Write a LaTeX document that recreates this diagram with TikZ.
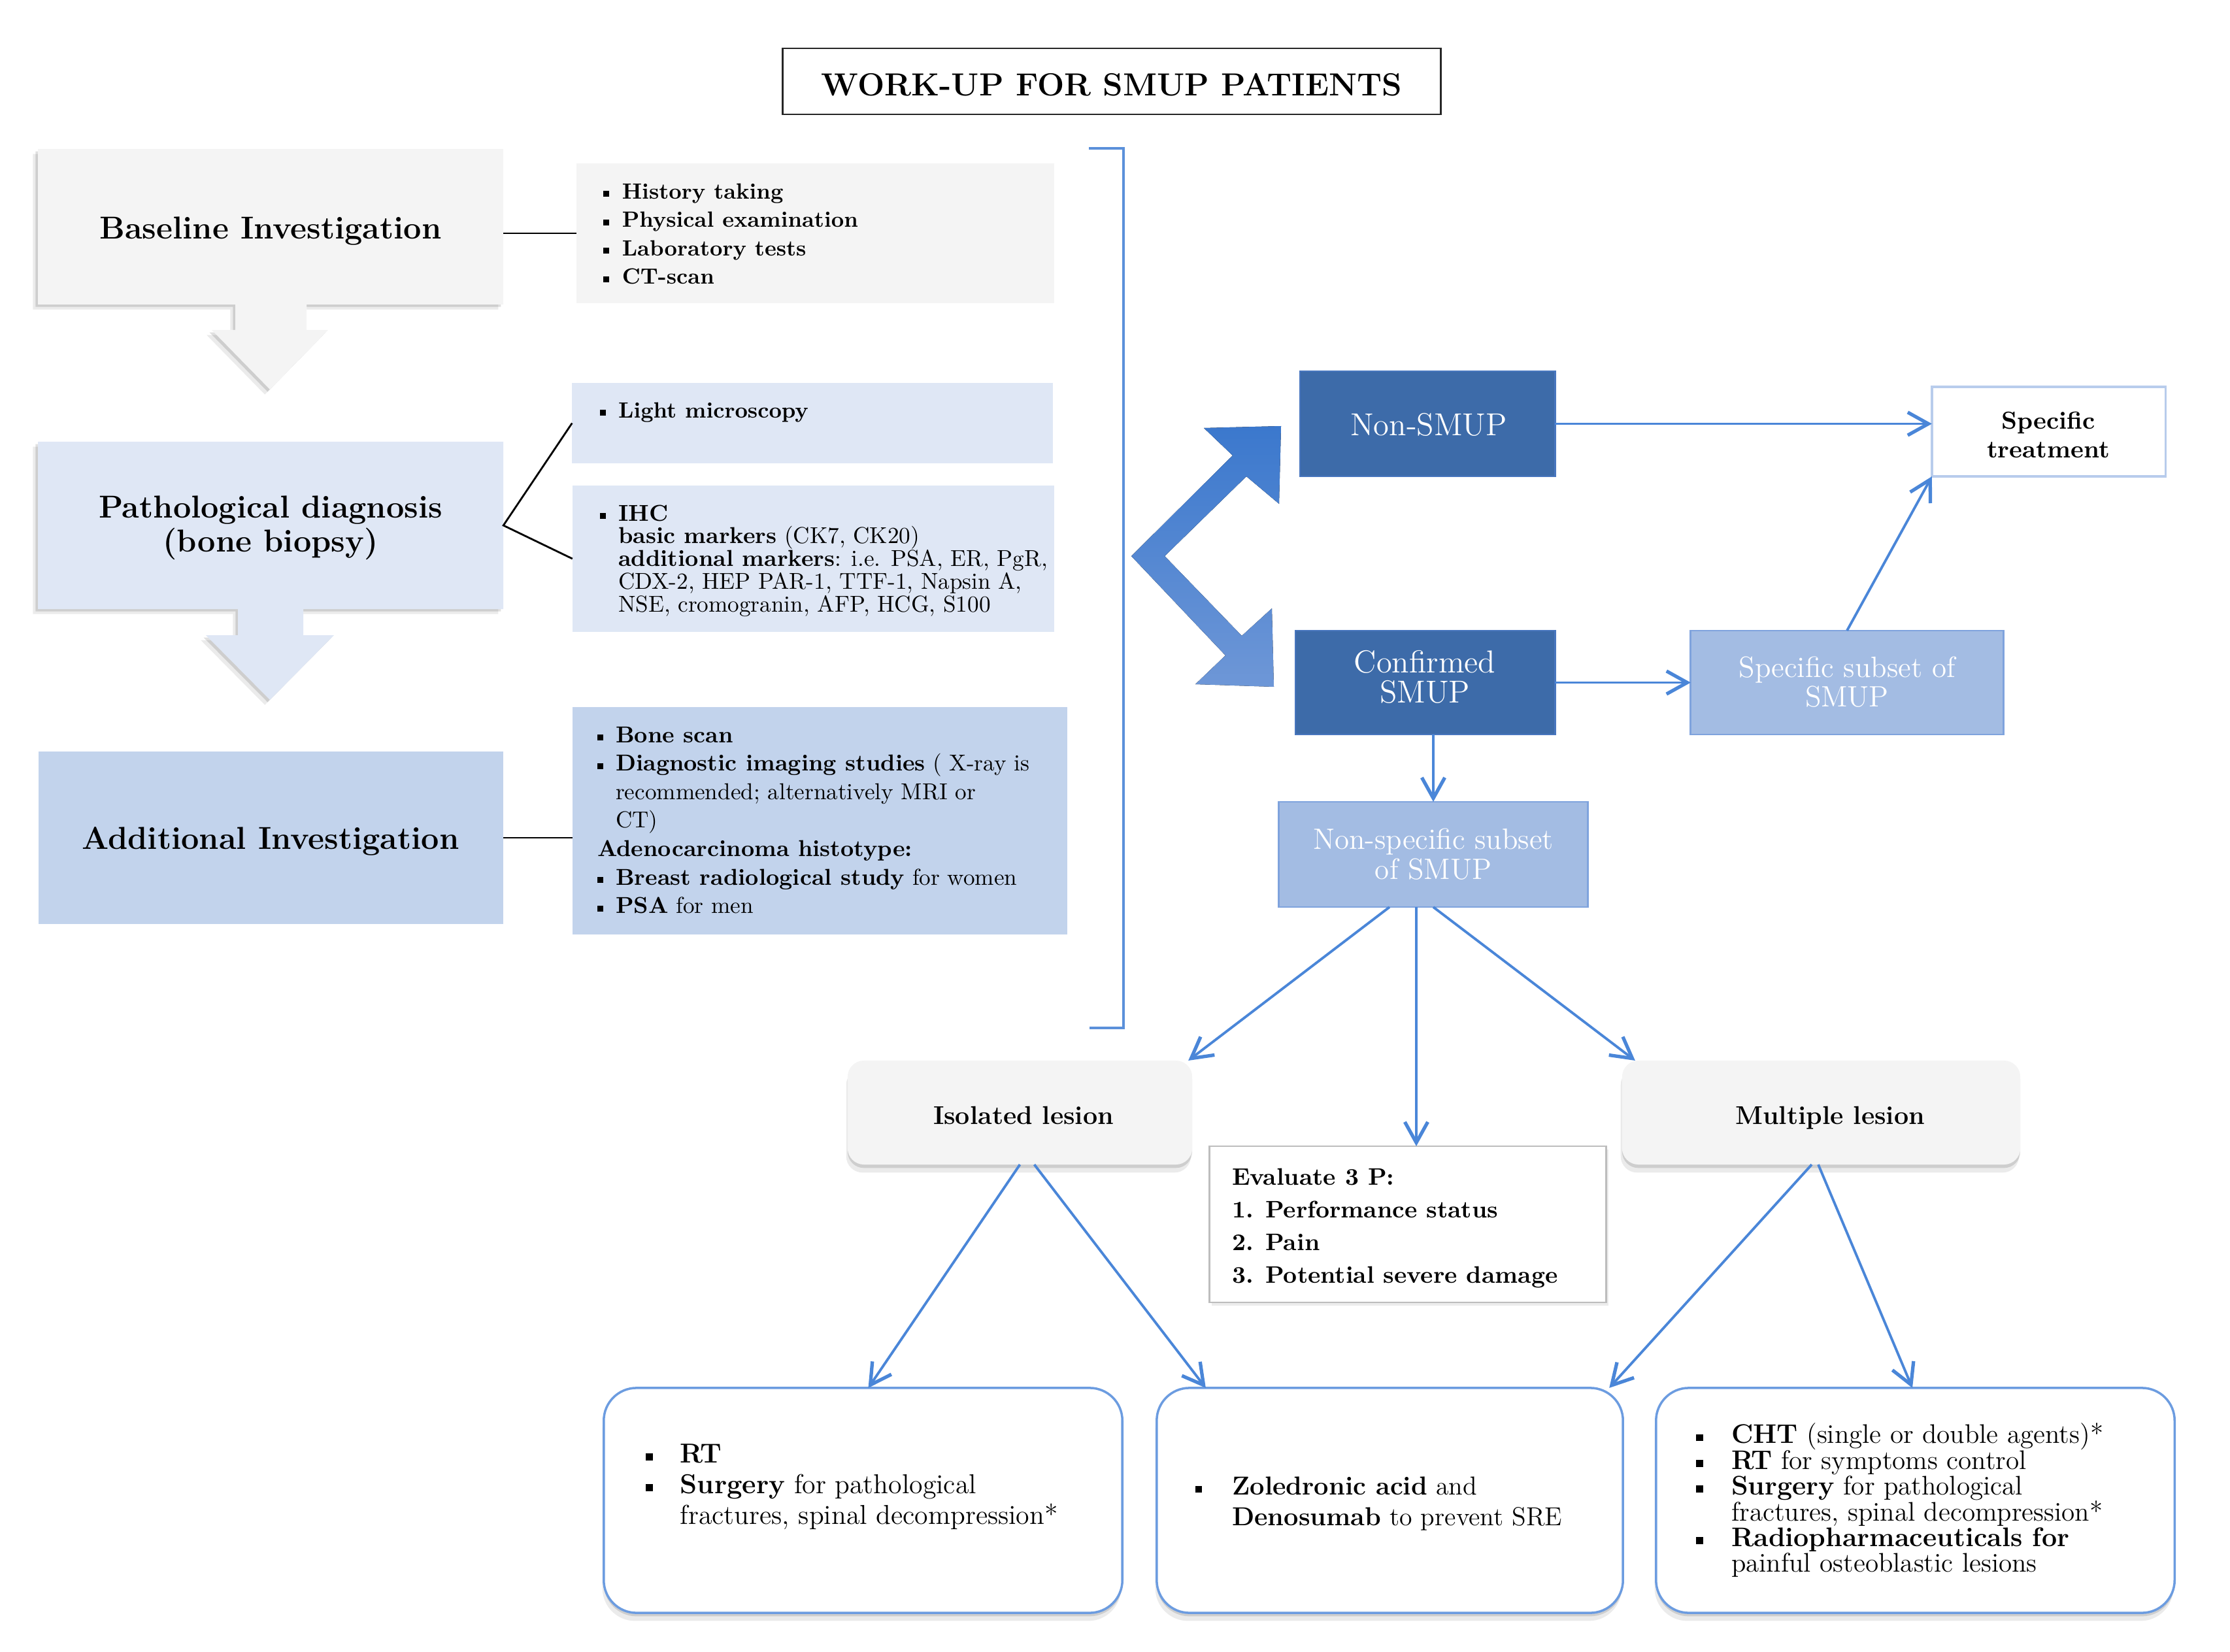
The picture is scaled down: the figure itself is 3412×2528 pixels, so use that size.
\documentclass[tikz,border=0pt]{standalone}
\usepackage{fontspec}
\usetikzlibrary{arrows.meta,shadows}
\definecolor{gbox}{HTML}{F4F4F4}
\definecolor{lblue}{HTML}{DFE7F5}
\definecolor{mblue}{HTML}{C2D3EC}
\definecolor{dblue}{HTML}{3D6BA9}
\definecolor{dblueline}{HTML}{4876BE}
\definecolor{sblue}{HTML}{A3BCE3}
\definecolor{sblueline}{HTML}{7FA3DD}
\definecolor{connc}{HTML}{4A86D8}
\definecolor{brkc}{HTML}{5B90DA}
\definecolor{specline}{HTML}{B8CCEC}
\definecolor{evalline}{HTML}{BDBDBD}
\definecolor{botline}{HTML}{6C9CE0}
\definecolor{chevtop}{HTML}{3B78CD}
\definecolor{chevbot}{HTML}{6E97D7}
\newcommand{\bul}[1]{\makebox[#1][l]{\raisebox{0.2ex}{\rule{0.26em}{0.26em}}}}
\newcommand{\tstrut}{\rule{0pt}{0.8em}}
\newcommand{\hfont}{\fontsize{13.8}{14.8}\selectfont\bfseries}
\tikzset{
  bx/.style={rectangle, inner sep=0pt, outer sep=0pt},
  lst/.style={anchor=north west, inner sep=0pt, outer sep=0pt, align=left},
  ctr/.style={inner sep=0pt, outer sep=0pt, align=center},
  txt/.style={anchor=base, inner sep=0pt, outer sep=0pt},
  blarrow/.style={draw=connc, line width=1.1pt, -{Straight Barb[length=9pt,width=10pt,line width=1.5pt]}},
  blk/.style={draw=black, line width=0.8pt},
  cshadow/.style={drop shadow={shadow xshift=-1pt, shadow yshift=-1pt, fill=black, opacity=0.12},
                  drop shadow={shadow xshift=-2.2pt, shadow yshift=-2.2pt, fill=black, opacity=0.08}},
  bshadow/.style={drop shadow={shadow xshift=0pt, shadow yshift=-1.5pt, fill=black, opacity=0.12},
                  drop shadow={shadow xshift=-0.6pt, shadow yshift=-3.5pt, fill=black, opacity=0.08}},
}
\begin{document}
\begin{tikzpicture}[x=0.01cm,y=-0.01cm]
\useasboundingbox (0,0) rectangle (3412,2528);

% title
\node[bx, draw=black!85, line width=0.7pt, minimum width=10.06cm, minimum height=1.01cm] (title) at (1701,124.5) {};
\node[txt, font=\fontsize{13.9}{16}\selectfont\bfseries] (titletxt) at (1701,147) {WORK-UP FOR SMUP PATIENTS};

% left column callouts
\path[fill=gbox, cshadow] (58,228) -- (770,228) -- (770,466) -- (469,466) -- (469,505) -- (502,505)
  -- (413,596) -- (324,505) -- (360,505) -- (360,466) -- (58,466) -- cycle;
\node[bx, minimum width=7.12cm, minimum height=2.38cm] (base) at (414,347) {};
\node[txt, font=\hfont] (basetxt) at (414,366) {Baseline Investigation};

\path[fill=lblue, cshadow] (58,676) -- (770,676) -- (770,932) -- (464,932) -- (464,972) -- (511,972)
  -- (413,1071) -- (315,972) -- (364,972) -- (364,932) -- (58,932) -- cycle;
\node[bx, minimum width=7.12cm, minimum height=2.56cm] (path) at (414,804) {};
\node[ctr, font=\hfont] (pathtxt) at (414,808) {Pathological diagnosis\\(bone biopsy)};

\node[bx, fill=mblue, minimum width=7.11cm, minimum height=2.64cm] (addl) at (414.5,1282) {};
\node[txt, font=\hfont] (addltxt) at (414,1299) {Additional Investigation};

% list boxes
\node[bx, fill=gbox, minimum width=7.31cm, minimum height=2.14cm] (list1) at (1247.5,357) {};
\node[lst, font=\fontsize{9.6}{12.4}\selectfont\bfseries] (list1txt) at (923,277)
  {\tstrut\bul{8.2pt}History taking\\ \bul{8.2pt}Physical examination\\ \bul{8.2pt}Laboratory tests\\ \bul{8.2pt}CT-scan};

\node[bx, fill=lblue, minimum width=7.35cm, minimum height=1.23cm] (micro) at (1243,647.5) {};
\node[lst, font=\fontsize{9.6}{12.4}\selectfont\bfseries] (microtxt) at (918,612)
  {\tstrut\bul{8pt}Light microscopy};

\node[bx, fill=lblue, minimum width=7.37cm, minimum height=2.24cm] (ihc) at (1244.5,855) {};
\node[lst, font=\fontsize{10}{9.9}\selectfont] (ihctxt) at (918,769)
  {\tstrut\bul{8pt}\textbf{IHC}\\
   \hspace*{8pt}\textbf{basic markers} (CK7, CK20)\\
   \hspace*{8pt}\textbf{additional markers}: i.e. PSA, ER, PgR,\\
   \hspace*{8pt}CDX-2, HEP PAR-1, TTF-1, Napsin A,\\
   \hspace*{8pt}NSE, cromogranin, AFP, HCG, S100};

\node[bx, fill=mblue, minimum width=7.57cm, minimum height=3.48cm] (addlist) at (1254.5,1256) {};
\node[lst, font=\fontsize{10}{12.4}\selectfont] (addlisttxt) at (914,1108)
  {\tstrut\bul{8pt}\textbf{Bone scan}\\
   \bul{8pt}\textbf{Diagnostic imaging studies} ( X-ray is\\
   \hspace*{8pt}recommended; alternatively MRI or\\
   \hspace*{8pt}CT)\\
   \textbf{Adenocarcinoma histotype:}\\
   \bul{8pt}\textbf{Breast radiological study} for women\\
   \bul{8pt}\textbf{PSA} for men};

% black connectors
\draw[blk] (base.east |- list1.west) -- (list1.west);
\draw[blk] (micro.west) -- (path.east) -- (ihc.west);
\draw[blk] (addl.east) -- (addl.east -| addlist.west);

% bracket
\coordinate (brA) at (1666,227);
\coordinate (brB) at (1667,1573);
\draw[brkc, line width=1.3pt] (brA) -- (brA -| 1719,0) -- (brB -| 1719,0) -- (brB);

% chevron
\fill[top color=chevtop, bottom color=chevbot] (1842,655) -- (1960,652) -- (1957,771) -- (1907,729)
  -- (1782,851) -- (1900,973) -- (1946,931) -- (1949,1051) -- (1829,1047) -- (1875,1003)
  -- (1731,851) -- (1886,697) -- cycle;

% blue boxes
\node[bx, fill=dblue, draw=dblueline, line width=0.8pt, minimum width=3.9cm, minimum height=1.61cm] (nonsmup) at (2184,648.5) {};
\node[txt, text=white, font=\fontsize{13.8}{15}\selectfont] (nonsmuptxt) at (2186,667) {Non-SMUP};

\node[bx, fill=white, draw=specline, line width=0.9pt, minimum width=3.57cm, minimum height=1.37cm] (spec) at (3134.5,660.5) {};
\node[ctr, font=\fontsize{10.7}{12.5}\selectfont\bfseries] (spectxt) at (3134,665) {Specific\\treatment};

\node[bx, fill=dblue, draw=dblueline, line width=0.8pt, minimum width=3.97cm, minimum height=1.59cm] (conf) at (2180.5,1044.5) {};
\node[ctr, text=white, font=\fontsize{13.8}{13}\selectfont] (conftxt) at (2180,1036) {Confirmed\\SMUP};

\node[bx, fill=sblue, draw=sblueline, line width=0.8pt, minimum width=4.78cm, minimum height=1.59cm] (subset) at (2826,1044.5) {};
\node[ctr, text=white, font=\fontsize{12.8}{13}\selectfont] (subsettxt) at (2826,1043.5) {Specific subset of\\SMUP};

\node[bx, fill=sblue, draw=sblueline, line width=0.8pt, minimum width=4.72cm, minimum height=1.61cm] (nonspec) at (2193,1307.5) {};
\node[ctr, text=white, font=\fontsize{12.8}{13}\selectfont] (nonspectxt) at (2193,1307) {Non-specific subset\\of SMUP};

% lesion boxes
\node[bx, rounded corners=0.25cm, fill=gbox, bshadow, minimum width=5.27cm, minimum height=1.59cm] (iso) at (1560.5,1702.5) {};
\node[txt, font=\fontsize{11.2}{13}\selectfont\bfseries] (isotxt) at (1566,1720) {Isolated lesion};
\node[bx, rounded corners=0.25cm, fill=gbox, bshadow, minimum width=6.09cm, minimum height=1.59cm] (multi) at (2786.5,1702.5) {};
\node[txt, font=\fontsize{11.2}{13}\selectfont\bfseries] (multitxt) at (2800,1720) {Multiple lesion};

\node[bx, fill=white, draw=evalline, line width=0.8pt, drop shadow={shadow xshift=1pt, shadow yshift=-1.5pt, opacity=0.15}, minimum width=6.06cm, minimum height=2.39cm] (eval) at (2154,1873.5) {};
\node[lst, font=\fontsize{10.4}{14.2}\selectfont\bfseries] (evaltxt) at (1885,1784)
  {\tstrut Evaluate 3 P:\\1. Performance status\\2. Pain\\3. Potential severe damage};

% bottom boxes
\node[bx, rounded corners=0.5cm, fill=white, draw=botline, line width=1pt, bshadow, minimum width=7.93cm, minimum height=3.44cm] (b1) at (1320.5,2296) {};
\node[lst, font=\fontsize{11.9}{13.4}\selectfont] (b1txt) at (988,2205)
  {\tstrut\bul{15pt}\textbf{RT}\\
   \bul{15pt}\textbf{Surgery} for pathological\\
   \hspace*{15pt}fractures, spinal decompression*};

\node[bx, rounded corners=0.5cm, fill=white, draw=botline, line width=1pt, bshadow, minimum width=7.13cm, minimum height=3.44cm] (b2) at (2126.5,2296) {};
\node[lst, font=\fontsize{11.3}{13.4}\selectfont] (b2txt) at (1829,2256)
  {\tstrut\bul{16pt}\textbf{Zoledronic acid} and\\
   \hspace*{16pt}\textbf{Denosumab} to prevent SRE};

\node[bx, rounded corners=0.5cm, fill=white, draw=botline, line width=1pt, bshadow, minimum width=7.93cm, minimum height=3.44cm] (b3) at (2930.5,2296) {};
\node[lst, font=\fontsize{11.7}{11.2}\selectfont] (b3txt) at (2595,2176)
  {\tstrut\bul{15.4pt}\textbf{CHT} (single or double agents)*\\
   \bul{15.4pt}\textbf{RT} for symptoms control\\
   \bul{15.4pt}\textbf{Surgery} for pathological\\
   \hspace*{15.4pt}fractures, spinal decompression*\\
   \bul{15.4pt}\textbf{Radiopharmaceuticals for}\\
   \hspace*{15.4pt}painful osteoblastic lesions};

% blue arrows
\draw[blarrow] (nonsmup.east) -- (nonsmup.east -| spec.west);
\draw[blarrow] (conf.east) -- (subset.west);
\draw[blarrow] (subset.north) -- (spec.south west);
\draw[blarrow] (nonspec.north |- conf.south) -- (nonspec.north);
\coordinate (ns1) at ([xshift=-0.67cm]nonspec.south);
\coordinate (ns2) at ([xshift=-0.26cm]nonspec.south);
\draw[blarrow] (ns1) -- ([xshift=-0.06cm]iso.north east);
\draw[blarrow] (ns2) -- (ns2 |- eval.north);
\draw[blarrow] (nonspec.south) -- ([xshift=0.2cm]multi.north west);
\draw[blarrow] (iso.south) -- ([xshift=0.08cm]b1.north);
\draw[blarrow] ([xshift=0.22cm]iso.south) -- ([xshift=0.75cm]b2.north west);
\draw[blarrow] ([xshift=-0.145cm]multi.south) -- ([xshift=-0.21cm]b2.north east);
\draw[blarrow] ([xshift=-0.045cm]multi.south) -- ([xshift=-0.045cm]b3.north);
\end{tikzpicture}
\end{document}
